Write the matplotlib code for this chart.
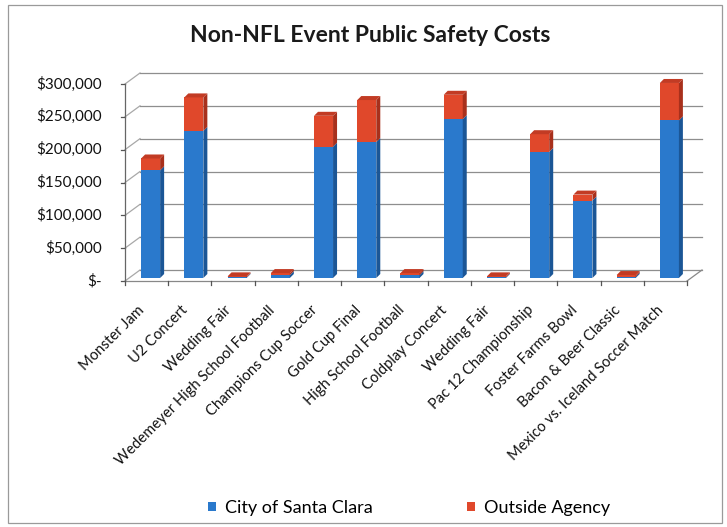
import matplotlib
matplotlib.use("Agg")
import matplotlib.pyplot as plt
from matplotlib.patches import Polygon, Rectangle, Patch
from matplotlib.lines import Line2D
from matplotlib.transforms import ScaledTranslation

categories = ["Monster Jam", "U2 Concert", "Wedding Fair", "Wedemeyer High School Football",
              "Champions Cup Soccer", "Gold Cup Final", "High School Football", "Coldplay Concert",
              "Wedding Fair", "Pac 12 Championship", "Foster Farms Bowl", "Bacon & Beer Classic",
              "Mexico vs. Iceland Soccer Match"]
city = [164000, 224000, 1000, 4500, 200000, 207000, 4500, 242000, 1000, 192000, 118000, 2000, 240000]
outside = [18000, 51000, 1500, 3000, 47000, 64000, 3000, 37000, 1500, 27000, 9000, 2500, 57000]
yticks = [0, 50000, 100000, 150000, 200000, 250000, 300000]
ytick_labels = ["$-", "$50,000", "$100,000", "$150,000", "$200,000", "$250,000", "$300,000"]
series_names = ["City of Santa Clara", "Outside Agency"]

FONT = "Lato"
W, H = 727, 527
DPI = 100
fig = plt.figure(figsize=(W / DPI, H / DPI), dpi=DPI)


def px(dx, dy):
    """Offset transform in pixels (dy positive = up)."""
    return ScaledTranslation(dx / DPI, dy / DPI, fig.dpi_scale_trans)


# chart border
fig.patches.append(Rectangle((8 / W, 4 / H), 714 / W, 518 / H, transform=fig.transFigure,
                             fill=False, edgecolor="#9a9a9a", linewidth=0.9))

ax_l, ax_r, ax_b, ax_t = 125, 687, 281, 84
ax = fig.add_axes([ax_l / W, 1 - ax_b / H, (ax_r - ax_l) / W, (ax_b - ax_t) / H])
n = len(categories)
x0, x1 = -0.5, n - 0.5
ymax = 300000
ax.set_xlim(x0, x1)
ax.set_ylim(0, ymax)
ax.set_axis_off()

sx = (x1 - x0) / (ax_r - ax_l)   # data units per pixel (x)
sy = ymax / (ax_b - ax_t)        # data units per pixel (y)

# walls / gridlines (3D look)
wdx, wdy = 15 * sx, 11 * sy
for v in yticks:
    ax.add_line(Line2D([x0, x0 + wdx], [v, v + wdy], color="#a8a8a8", lw=0.9, clip_on=False, zorder=1))
    ax.add_line(Line2D([x0 + wdx, x1 + wdx], [v + wdy, v + wdy], color="#8e8e8e", lw=0.9,
                       clip_on=False, zorder=1))
    ax.add_line(Line2D([x0 - 4 * sx, x0], [v, v], color="#555555", lw=0.9, clip_on=False, zorder=1))
ax.add_line(Line2D([x0, x0], [0, ymax], color="#666666", lw=0.9, clip_on=False, zorder=1))
ax.add_line(Line2D([x0, x1], [0, 0], color="#888888", lw=0.9, clip_on=False, zorder=1))
ax.add_line(Line2D([x1, x1 + wdx], [0, wdy], color="#888888", lw=0.9, clip_on=False, zorder=1))
for i in range(n + 1):
    xb = x0 + i
    ax.add_line(Line2D([xb, xb], [0, -4 * sy], color="#555555", lw=0.9, clip_on=False, zorder=1))

# bars (front face + side + top cap for a 3D look)
hw = 0.22
bdx, bdy = 4 * sx, 4 * sy
shift_x, shift_y = 4 * sx, 3 * sy
cols = {"front": ["#2a79cc", "#e0482b"], "side": ["#1b5696", "#a8301c"], "top": ["#3a86d4", "#c23b24"]}
for i in range(n):
    c = i + shift_x
    segs = [(0, city[i]), (city[i], city[i] + outside[i])]
    for k, (b, t) in enumerate(segs):
        b2, t2 = b + shift_y, t + shift_y
        ax.add_patch(Rectangle((c - hw, b2), 2 * hw, t2 - b2, facecolor=cols["front"][k],
                               edgecolor="none", zorder=3, clip_on=False))
        ax.add_patch(Polygon([(c + hw, b2), (c + hw + bdx, b2 + bdy), (c + hw + bdx, t2 + bdy), (c + hw, t2)],
                             closed=True, facecolor=cols["side"][k], edgecolor="none", zorder=3,
                             clip_on=False))
    t2 = city[i] + outside[i] + shift_y
    ax.add_patch(Polygon([(c - hw, t2), (c + hw, t2), (c + hw + bdx, t2 + bdy), (c - hw + bdx, t2 + bdy)],
                         closed=True, facecolor=cols["top"][1], edgecolor="none", zorder=3, clip_on=False))

# y tick labels
for v, lab in zip(yticks, ytick_labels):
    ax.text(0, v, lab, transform=ax.get_yaxis_transform() + px(-23, 0), ha="right", va="center",
            fontsize=11, family=FONT, color="#111111")

# x tick labels
for i, lab in enumerate(categories):
    ax.text(i, 0, lab, transform=ax.get_xaxis_transform() + px(-4, -27), rotation=45,
            rotation_mode="anchor", ha="right", va="center", fontsize=10.6, family=FONT,
            color="#111111")

fig.text(370.5 / W, 1 - 35 / H, "Non-NFL Event Public Safety Costs", ha="center", va="center",
         fontsize=16.5, fontweight="bold", family=FONT, color="#1a1a1a")

handles = [Patch(facecolor=cols["front"][0]), Patch(facecolor=cols["front"][1])]
fig.legend(handles, series_names, loc="center left", bbox_to_anchor=(208 / W, 1 - 508 / H), ncol=2,
           frameon=False, prop={"family": FONT, "size": 13}, handlelength=0.45, handleheight=0.45,
           handletextpad=0.5, columnspacing=5.2, borderpad=0, borderaxespad=0)

fig.savefig("out.png", dpi=DPI)
